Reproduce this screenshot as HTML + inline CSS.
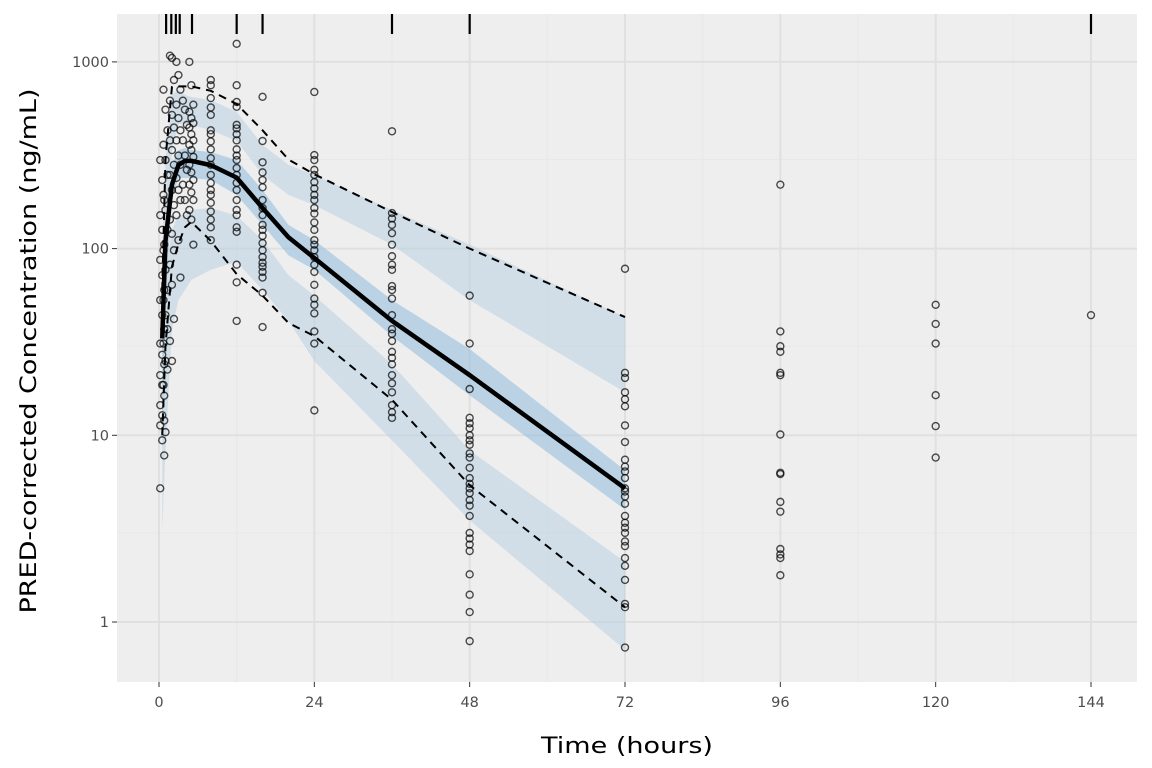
<!DOCTYPE html>
<html><head><meta charset="utf-8"><style>
html,body{margin:0;padding:0;background:#fff;}
svg{display:block;font-family:"DejaVu Sans","Liberation Sans",sans-serif;}
</style></head><body>
<svg id="chart" width="1152" height="768"></svg>
<script>
const binTimes=[0.5,1,2,3,4,5,8,12,16,20,24,36,48,72];
const median=[33,110,220,280,295,295,280,240,165,115,89,41,21,5.2];
const p95=[60,300,735,740,740,740,700,595,430,300,250,157,100,43];
const p05=[10,30,80,106,130,139,110,73,56,40,34,15.5,5.4,1.2];
const upHi=[98,298,665,707,665,649,625,539,359,281,248,161,105,43];
const upLo=[25,98,337,465,465,459,432,377,248,194,171,105,53,17];
const medHi=[41,126,281,337,346,337,329,298,206,134,111,53,29,6.5];
const medLo=[9.4,53,182,239,239,239,233,194,134,92,77,34,16.4,4.0];
const loHi=[15.5,68,126,151,151,161,165,150,111,72,56,24,8.3,2.1];
const loLo=[3.1,8.3,37,53,60,68,77,85,60,41,25,9.4,3.5,0.71];
const rugTimes=[1.1,1.9,2.6,3.2,5.1,12,16,36,48,144];
const obsTimes=[0.5,1,2,3,4,5,8,12,16,24,36,48,72,96,120,144];
const obsConc=[
[298,233,182,151,126,105,87,72,60,53,44,37,31,27,24,21,18.6,16.3,14.5,12.8,12,11.3,9.4,7.8,5.2],
[710,555,430,360,298,248,194,161,126,98,77,60,53,44,37,31,25,22.5,18.6,10.4],
[1080,1050,800,620,520,445,380,337,281,248,206,171,143,120,98,82,64,42,32,25],
[1000,850,710,590,500,430,380,315,281,239,206,182,151,111,70],
[620,555,460,380,315,264,220,182,151],
[1000,750,590,540,500,470,445,410,380,360,337,310,281,256,233,220,200,182,161,143,105],
[800,750,640,570,520,430,410,375,340,305,281,248,225,206,194,176,158,143,130,111],
[1250,750,610,575,460,440,410,380,340,315,298,270,248,225,206,182,161,151,130,123,82,66,41],
[650,377,290,256,233,213,182,165,151,134,126,117,107,98,90,84,80,75,70,58,38],
[690,317,298,264,248,227,210,194,182,165,154,138,126,111,105,98,90,82,75,64,54,50,45,36,31,13.6],
[425,155,145,134,121,105,91,82,77,63,60,54,44,37,35,32,28,26,24,21,19,17,14.5,13.3,12.4],
[56,31,17.7,12.4,11.6,10.9,10,9.4,8.9,8.0,7.6,6.7,5.9,5.5,5.2,4.9,4.5,4.2,3.7,3.0,2.8,2.6,2.4,1.8,1.4,1.13,0.79],
[78,21.6,20.3,17,15.6,14.3,11.3,9.2,7.4,6.8,6.4,5.9,5.2,5.0,4.7,4.3,3.7,3.4,3.2,3.0,2.7,2.55,2.2,2.0,1.68,1.25,1.2,0.73],
[220,36,30,28,21.6,21,10.1,6.3,6.2,4.4,3.9,2.46,2.3,2.2,1.78],
[50,39.5,31,16.4,11.2,7.6],
[44]];
const xTicks=[0,24,48,72,96,120,144];
const yTicks=[1,10,100,1000];

const NS="http://www.w3.org/2000/svg";
const svg=document.getElementById('chart');
const PL=117,PR=1137,PT=14,PB=682;
const X=t=>159+t*(1091-159)/144;
const Y=c=>622-186.7*Math.log10(c);
function mk(tag,attrs,parent){const e=document.createElementNS(NS,tag);for(const k in attrs)e.setAttribute(k,attrs[k]);(parent||svg).appendChild(e);return e;}

const panel=mk('rect',{x:PL,y:PT,width:PR-PL,height:PB-PT,fill:'#eeeeee'});


[3,30,300].forEach(v=>{const g=mk('line',{x1:PL,x2:PR,y1:Y(v),y2:Y(v),stroke:'#e8e8e8','stroke-width':1});
});
[12,36,60,84,108,132].forEach(v=>{const g=mk('line',{x1:X(v),x2:X(v),y1:PT,y2:PB,stroke:'#e8e8e8','stroke-width':1});
});
yTicks.forEach(v=>{const g=mk('line',{x1:PL,x2:PR,y1:Y(v),y2:Y(v),stroke:'#e0e0e0','stroke-width':2});

const t=mk('line',{x1:PL-5,x2:PL,y1:Y(v),y2:Y(v),stroke:'#333','stroke-width':1});

const l=mk('text',{x:PL-8,y:Y(v)+5,'text-anchor':'end','font-size':14.5,fill:'#4d4d4d'});l.textContent=v;
});
xTicks.forEach(v=>{const g=mk('line',{x1:X(v),x2:X(v),y1:PT,y2:PB,stroke:'#e0e0e0','stroke-width':2});

const t=mk('line',{x1:X(v),x2:X(v),y1:PB,y2:PB+5,stroke:'#333','stroke-width':1});

const l=mk('text',{x:X(v),y:PB+25,'text-anchor':'middle','font-size':14.5,fill:'#4d4d4d'});l.textContent=v;
});

function band(hi,lo,fill,op,name){
 let d='';binTimes.forEach((t,i)=>{d+=(i?'L':'M')+X(t)+','+Y(hi[i]);});
 for(let i=binTimes.length-1;i>=0;i--)d+='L'+X(binTimes[i])+','+Y(lo[i]);
 const p=mk('path',{d:d+'Z',fill:fill,'fill-opacity':op});
 }
band(upHi,upLo,'#b3cde0',0.5,'upper-percentile-ci-band');
band(loHi,loLo,'#b3cde0',0.5,'lower-percentile-ci-band');
band(medHi,medLo,'#8fbbdd',0.55,'median-ci-band');

function line(vals,name,w,dash){
 const d=binTimes.map((t,i)=>(i?'L':'M')+X(t)+','+Y(vals[i])).join('');
 const p=mk('path',{d:d,fill:'none',stroke:'#000','stroke-width':w,'stroke-dasharray':dash||'none','stroke-linejoin':'round'});
 }

obsTimes.forEach((t,i)=>{obsConc[i].forEach((c,j)=>{
 const jit=(i<6)?((j%3)-1)*2:0;
 const p=mk('circle',{cx:X(t)+jit,cy:Y(c),r:3.5,fill:'none',stroke:'#000','stroke-opacity':0.7,'stroke-width':1.4});
 
 });});

line(p95,'p95-line',2,'8,6');
line(p05,'p05-line',2,'8,6');
line(median,'median-line',4.5);

rugTimes.forEach(t=>{const r=mk('line',{x1:X(t),x2:X(t),y1:PT,y2:PT+20,stroke:'#000','stroke-width':2.2});
});

const xt=mk('text',{x:627,y:753,'text-anchor':'middle','font-size':22,fill:'#000',textLength:172,lengthAdjust:'spacingAndGlyphs'});xt.textContent='Time (hours)';

const yt=mk('text',{x:0,y:0,'text-anchor':'middle','font-size':22,fill:'#000',textLength:525,lengthAdjust:'spacingAndGlyphs',transform:'translate(36,351) rotate(-90)'});yt.textContent='PRED-corrected Concentration (ng/mL)';

</script>
</body></html>
